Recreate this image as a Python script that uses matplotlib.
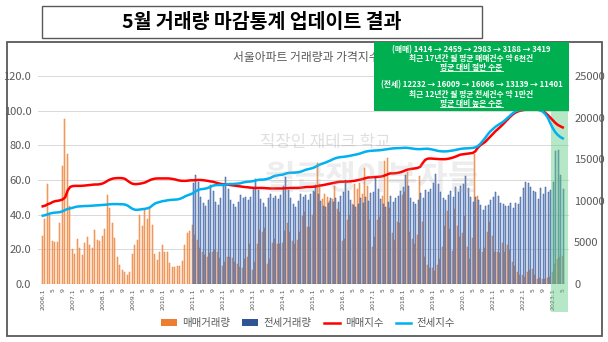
import numpy as np
import matplotlib.pyplot as plt
from matplotlib.patches import Rectangle, Patch
from matplotlib.lines import Line2D
from matplotlib.transforms import blended_transform_factory

plt.rcParams['font.family'] = ['Noto Sans CJK KR', 'DejaVu Sans']

# monthly data, 2006.1 ~ 2023.5
start_year = 2006
jeonse_start = 60  # 2011.1

sales = [
    5730, 7850, 12060, 8250, 5120, 5080, 5040, 7330, 14160, 19790, 15620, 9330,
    4210, 3650, 5420, 4370, 3540, 4940, 5620, 4730, 4330, 6520, 5330, 5210,
    5810, 6600, 10730, 9120, 7330, 5520, 3250, 2330, 1730, 1400, 1040, 1440,
    3650, 4730, 5330, 8290, 6940, 8940, 7810, 9250, 7120, 3650, 2920, 3810,
    4730, 3810, 3810, 2520, 2000, 2040, 2120, 2210, 2710, 4730, 6120, 6420,
    7100, 5900, 5250, 4300, 3900, 3500, 3300, 3700, 3900, 4100, 3800, 3100,
    2200, 2600, 3300, 3300, 3100, 2700, 2400, 2100, 1900, 3000, 3200, 4800,
    1700, 2700, 4800, 6500, 6200, 6700, 2400, 3000, 4900, 5400, 4800, 4800,
    4900, 6400, 7300, 6300, 5200, 4800, 5300, 6300, 8200, 8700, 6900, 6900,
    8300, 11000, 14500, 12000, 10200, 10800, 10400, 10000, 10200, 11800, 9000, 8600,
    5200, 5400, 7700, 8300, 9600, 12000, 11400, 12100, 10800, 14000, 11800, 7700,
    4500, 5700, 7700, 8100, 10600, 14800, 15200, 9100, 6100, 5300, 7400, 7300,
    10700, 11100, 13500, 6200, 5400, 4800, 5900, 13000, 7500, 3300, 2300, 1900,
    1900, 1600, 2300, 3000, 4400, 7000, 8800, 6600, 4000, 9000, 7000, 5600,
    6100, 8200, 4400, 3000, 5500, 15600, 10600, 4200, 3800, 4300, 6200, 7500,
    5800, 3900, 3800, 3700, 4900, 3900, 4700, 4100, 2700, 2200, 1400, 1100,
    1100, 800, 1400, 1700, 1800, 1100, 650, 670, 610, 560, 730, 840,
    1414, 2459, 2983, 3188, 3419,
]

jeonse = [
    12100, 13100, 12300, 10500, 9700, 9400, 10100, 11900, 11200, 9900, 9500, 10300,
    11900, 12900, 11400, 10100, 9600, 9200, 9800, 10700, 10300, 10400, 10100, 10500,
    11500, 12600, 11300, 10200, 9700, 9300, 10300, 10800, 10300, 10600, 10200, 10700,
    11800, 12800, 11300, 10300, 9600, 9300, 10000, 10800, 10500, 10700, 10100, 10800,
    11200, 11900, 10800, 10000, 9400, 9200, 9700, 10300, 9900, 10300, 9800, 10600,
    11000, 12500, 11200, 10100, 9500, 9200, 9600, 10300, 9700, 10400, 10000, 10900,
    11100, 12700, 11400, 10200, 9600, 9300, 9900, 10600, 9900, 10300, 10600, 11200,
    11700, 13100, 11800, 10300, 9800, 9600, 10100, 10900, 10300, 11300, 11100, 11400,
    12100, 13200, 12000, 11000, 10300, 10100, 10700, 11200, 10400, 11600, 11000, 11800,
    12000, 13000, 11500, 10400, 9800, 10400, 10100, 9500, 8900, 9400, 9500, 10100,
    10500, 11000, 10600, 9700, 9600, 9400, 9400, 9700, 9100, 9700, 9600, 10500,
    11500, 12300, 12100, 11600, 11200, 11100, 10200, 11500, 10800, 11600, 11000, 11300,
    12232, 16009, 16066, 13139, 11401,
]

sale_index = [
    44.8, 45.2, 46.0, 46.5, 47.3, 47.8, 48.0, 48.3, 48.8, 50.0, 54.0, 56.0,
    56.5, 56.6, 56.6, 56.6, 56.7, 56.8, 57.0, 57.1, 57.3, 57.4, 57.4, 57.6,
    58.0, 58.7, 59.6, 60.3, 60.8, 61.0, 61.1, 61.1, 61.0, 60.6, 59.5, 58.5,
    57.8, 57.6, 57.7, 57.9, 58.2, 58.6, 59.3, 60.0, 60.5, 60.8, 60.9, 60.9,
    60.9, 60.9, 60.9, 60.8, 60.6, 60.3, 59.9, 59.6, 59.5, 59.5, 59.6, 59.8,
    59.8, 59.9, 60.0, 60.0, 59.9, 59.7, 59.5, 59.2, 59.0, 58.6, 58.2, 57.8,
    57.6, 57.5, 57.3, 57.1, 56.9, 56.7, 56.5, 56.3, 56.1, 55.9, 55.8, 55.6,
    55.5, 55.4, 55.4, 55.4, 55.4, 55.3, 55.2, 55.1, 55.1, 55.1, 55.1, 55.1,
    55.1, 55.2, 55.3, 55.4, 55.4, 55.4, 55.4, 55.5, 55.7, 55.9, 56.0, 56.0,
    56.1, 56.2, 56.5, 56.8, 57.0, 57.3, 57.6, 57.9, 58.2, 58.5, 58.8, 59.0,
    59.0, 59.1, 59.1, 59.2, 59.4, 59.6, 59.9, 60.2, 60.6, 61.0, 61.4, 61.5,
    61.6, 61.7, 61.8, 61.9, 62.2, 62.7, 63.3, 63.8, 63.8, 63.9, 64.1, 64.4,
    64.9, 65.5, 66.0, 66.3, 66.5, 66.7, 67.0, 67.6, 69.8, 71.6, 72.3, 72.4,
    72.3, 72.2, 72.1, 72.0, 72.0, 72.0, 72.2, 72.5, 72.9, 73.4, 74.0, 74.6,
    74.8, 75.0, 75.2, 75.4, 75.6, 76.5, 78.5, 80.0, 81.0, 82.0, 83.5, 85.0,
    86.5, 88.0, 89.3, 90.6, 92.0, 93.5, 95.0, 96.5, 97.8, 98.8, 99.5, 100.0,
    100.3, 100.5, 100.6, 100.6, 100.7, 100.7, 100.6, 100.3, 99.8, 98.8, 97.5, 96.0,
    94.5, 93.0, 91.8, 91.0, 90.3,
]

jeonse_index = [
    39.4, 39.7, 40.2, 40.7, 41.0, 41.2, 41.3, 41.5, 42.0, 42.7, 43.3, 43.6,
    44.0, 44.4, 44.7, 44.8, 44.9, 45.0, 45.0, 45.1, 45.2, 45.3, 45.4, 45.5,
    45.6, 45.7, 45.9, 46.0, 46.1, 46.1, 46.1, 46.0, 46.0, 45.8, 45.2, 44.2,
    43.3, 42.8, 42.8, 43.0, 43.2, 43.4, 43.7, 44.3, 45.5, 46.5, 47.0, 47.4,
    47.8, 48.0, 48.3, 48.5, 48.6, 48.7, 48.8, 49.2, 49.8, 50.6, 51.2, 51.7,
    52.3, 53.3, 54.1, 54.6, 54.8, 55.0, 55.4, 56.0, 56.7, 57.0, 57.1, 57.1,
    57.1, 57.3, 57.6, 57.7, 57.7, 57.8, 57.9, 58.1, 58.5, 58.8, 59.0, 59.1,
    59.3, 59.6, 60.0, 60.2, 60.2, 60.4, 60.7, 61.1, 61.9, 62.4, 62.7, 62.9,
    63.1, 63.6, 64.0, 64.2, 64.2, 64.3, 64.4, 64.7, 65.2, 65.8, 66.2, 66.5,
    66.9, 67.5, 68.3, 69.0, 69.5, 70.0, 70.6, 71.2, 71.9, 72.5, 72.9, 73.2,
    73.3, 73.5, 73.7, 74.0, 74.3, 74.6, 74.9, 75.3, 75.8, 76.3, 76.6, 76.8,
    76.9, 77.0, 77.1, 77.2, 77.4, 77.6, 77.8, 78.0, 78.2, 78.3, 78.4, 78.4,
    78.5, 78.6, 78.5, 78.3, 78.1, 77.9, 77.8, 77.8, 77.9, 78.0, 78.0, 77.8,
    77.5, 77.2, 76.8, 76.6, 76.5, 76.5, 76.6, 76.8, 77.0, 77.3, 77.6, 77.9,
    78.1, 78.2, 78.3, 78.4, 78.5, 78.8, 79.5, 80.8, 82.5, 84.3, 86.3, 88.0,
    89.3, 90.6, 91.6, 92.5, 93.4, 94.6, 95.9, 97.2, 98.5, 99.5, 100.1, 100.4,
    100.6, 100.7, 100.7, 100.7, 100.7, 100.6, 100.5, 100.2, 99.4, 98.0, 96.0, 92.8,
    89.9, 87.6, 86.0, 84.8, 84.0,
]

title = '5월 거래량 마감통계 업데이트 결과'
chart_title = '서울아파트 거래량과 가격지수'
note_lines = [
    ('(매매) 1414 → 2459 → 2983 → 3188 → 3419', False),
    ('최근 17년간 월 평균 매매건수 약 6천건', False),
    ('평균 대비 절반 수준', True),
    ('', False),
    ('(전세) 12232 → 16009 → 16066 → 13139 → 11401', False),
    ('최근 12년간 월 평균 전세건수 약 1만건', False),
    ('평균 대비 높은 수준', True),
]

W, H = 608, 342
fig = plt.figure(figsize=(W / 100, H / 100), dpi=100)


def fx(px):
    return px / W


def fy(py):
    return 1 - py / H


# outer frame and title box
fig.patches.append(Rectangle((fx(7), fy(336)), fx(602) - fx(7), fy(42) - fy(336),
                             transform=fig.transFigure, fill=False,
                             edgecolor='#595959', linewidth=1.3, zorder=1))
fig.patches.append(Rectangle((fx(42), fy(38)), fx(482) - fx(42), fy(6) - fy(38),
                             transform=fig.transFigure, facecolor='white',
                             edgecolor='#595959', linewidth=1.0, zorder=1))
fig.text(fx(262), fy(22), title, ha='center', va='center', fontsize=14,
         fontweight='bold', color='black')

n = len(sales)
x = np.arange(n)
xj = np.arange(jeonse_start, jeonse_start + len(jeonse))

left, right = fx(38.2), fx(568.5)
bottom, top = fy(284), fy(41.3)
axb = fig.add_axes([left, bottom, right - left, top - bottom])
axl = axb.twinx()

lmax = 140
rmax = lmax * 25000 / 120
axb.set_ylim(0, rmax)
axl.set_ylim(0, lmax)
axb.set_xlim(-1.8, n + 1.3)

bw = 0.42
axb.bar(x - 0.22, sales, width=bw, color='#F4B183', edgecolor='#ED7D31',
        linewidth=0.35, zorder=2)
axb.bar(xj + 0.22, jeonse, width=bw, color='#8FAADC', edgecolor='#2F5597',
        linewidth=0.35, zorder=2)

lticks = np.arange(0, 121, 20)
for v in lticks[1:]:
    axb.axhline(v * rmax / lmax, color='#D9D9D9', linewidth=0.7, zorder=0)
axb.axhline(0, color='#D9D9D9', linewidth=0.8, zorder=1)

axl.plot(x, sale_index, color='#FF0000', linewidth=1.8, zorder=3)
axl.plot(x, jeonse_index, color='#00B0F0', linewidth=1.8, zorder=3)

axl.set_zorder(axb.get_zorder() + 1)
axl.patch.set_visible(False)

# ticks
axb.yaxis.tick_right()
axb.set_yticks(np.arange(0, 25001, 5000))
axb.set_yticklabels([str(v) for v in range(0, 25001, 5000)])
axl.yaxis.tick_left()
axl.set_yticks(lticks)
axl.set_yticklabels([f'{v:.1f}' for v in lticks])
for a in (axb, axl):
    for s in a.spines.values():
        s.set_visible(False)
axb.tick_params(axis='y', length=0, pad=4, labelsize=8, labelcolor='#595959')
axl.tick_params(axis='y', length=0, pad=5, labelsize=8, labelcolor='#595959')

tick_pos = [m for m in range(n) if m % 12 in (0, 4, 8)]
tick_lab = [f'{start_year + m // 12}.1' if m % 12 == 0 else str(m % 12 + 1) for m in tick_pos]
axb.set_xticks(tick_pos)
axb.set_xticklabels(tick_lab, rotation=90, fontsize=4.5, color='#595959',
                    family='DejaVu Sans')
axb.tick_params(axis='x', length=0, pad=3)

# highlight of 2023
tr = blended_transform_factory(axb.transData, axb.transAxes)
axb.add_patch(Rectangle((203.5, -0.115), n + 1.3 - 203.5, 1.115, transform=tr,
                        facecolor='#5FCB82', alpha=0.45, edgecolor='none',
                        clip_on=False, zorder=4))

# watermark
fig.text(fx(325), fy(143), '직장인 재테크 학교', ha='center', va='center',
         fontsize=12, color='#A6A6A6', alpha=0.35, zorder=2)
fig.text(fx(372), fy(180), '월급쟁이부자들', ha='center', va='center',
         fontsize=24, fontweight='bold', color='#A6A6A6', alpha=0.2, zorder=2)

fig.text(fx(306), fy(57), chart_title, ha='center', va='center', fontsize=8.5,
         color='#595959', zorder=2)

# green note box
fig.patches.append(Rectangle((fx(374), fy(111)), fx(569) - fx(374), fy(42.5) - fy(111),
                             transform=fig.transFigure, facecolor='#00B050',
                             edgecolor='none', zorder=5))
ys = [49.3, 58.3, 67.3, 76, 85, 94, 103.3]
texts = []
for (s, ul), yy in zip(note_lines, ys):
    if not s:
        continue
    t = fig.text(fx(471.5), fy(yy), s, ha='center', va='center', fontsize=5.6,
                 fontweight='bold', color='white', zorder=6)
    texts.append((t, ul))

fig.canvas.draw()
renderer = fig.canvas.get_renderer()
for t, ul in texts:
    if ul:
        bb = t.get_window_extent(renderer).transformed(fig.transFigure.inverted())
        fig.lines.append(Line2D([bb.x0, bb.x1], [bb.y0 + 0.002, bb.y0 + 0.002],
                                transform=fig.transFigure, color='white',
                                linewidth=0.6, zorder=6))

handles = [Patch(facecolor='#ED7D31', edgecolor='none'),
           Patch(facecolor='#2F5597', edgecolor='none'),
           Line2D([], [], color='#FF0000', linewidth=1.8),
           Line2D([], [], color='#00B0F0', linewidth=1.8)]
labels = ['매매거래량', '전세거래량', '매매지수', '전세지수']
fig.legend(handles, labels, loc='center', bbox_to_anchor=(fx(308), fy(323)),
           ncol=4, frameon=False, fontsize=7.5, handlelength=1.5,
           handleheight=0.6, columnspacing=1.2, handletextpad=0.5,
           labelcolor='#595959')

fig.savefig('out.png', dpi=100)
